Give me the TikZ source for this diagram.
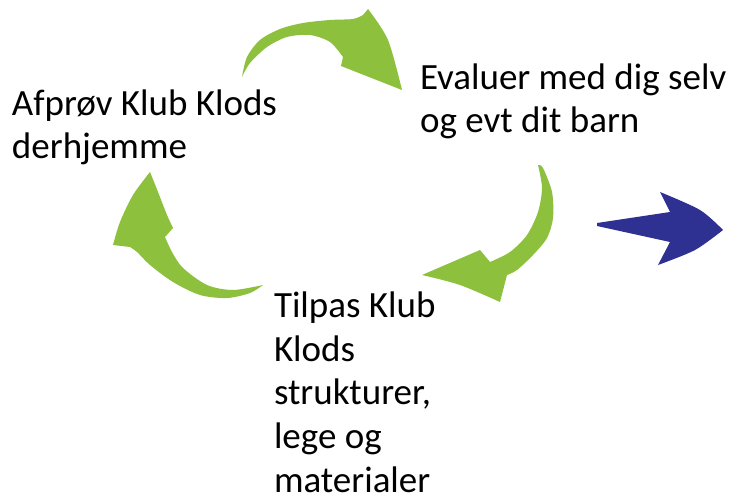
\documentclass[tikz,border=0pt]{standalone}
\usepackage{fontspec}
\setmainfont{Carlito}
\usepackage{tikz}
\usetikzlibrary{positioning}
\definecolor{arrowgreen}{RGB}{141,192,61}
\definecolor{arrowblue}{RGB}{46,48,146}

\begin{document}
\begin{tikzpicture}[x=1pt,y=-1pt,
    every node/.style={inner sep=0pt,outer sep=0pt},
    steptext/.style={anchor=base west,align=left,font=\fontsize{37}{43.6}\selectfont},
    cyclearrow/.style={fill=arrowgreen},
    nextarrow/.style={fill=arrowblue}]

    \useasboundingbox[fill=white] (0,0) rectangle (738,497);

    \node[steptext] (Afproev) at (12,159) {Afprøv Klub Klods\\derhjemme};
    \node[steptext] (Evaluer) at (420,133) {Evaluer med dig selv\\og evt dit barn};
    \node[steptext] (Tilpas) at (274,492) {Tilpas Klub\\Klods\\strukturer,\\lege og\\materialer};

    \fill[cyclearrow] (242,77)
      -- plot[smooth] coordinates {(242,77) (247,57) (260,40) (280,29) (303,23) (330,20) (353,19) (363,15)}
      -- (368,9)
      -- plot[smooth] coordinates {(368,9) (388,40) (402,90)}
      -- (341,66) -- (343,57)
      -- plot[smooth] coordinates {(343,57) (330,42) (310,35) (287,37) (267,47) (250,63) (242,77)}
      -- cycle;

    \fill[cyclearrow] (538,165)
      -- plot[smooth] coordinates {(538,165) (543,168) (552,192) (553,218) (547,238) (533,255) (517,270) (507,275)}
      -- (500,302)
      -- plot[smooth] coordinates {(500,302) (460,285) (422,275)}
      -- (480,250) -- (490,262)
      -- plot[smooth] coordinates {(490,262) (510,252) (527,235) (538,212) (542,188) (538,165)}
      -- cycle;

    \fill[cyclearrow] (150,172)
      -- plot[smooth] coordinates {(150,172) (158,192) (167,215) (173,228)}
      -- (165,237)
      -- plot[smooth] coordinates {(165,237) (172,252) (183,268) (207,285) (233,290) (263,285)}
      -- plot[smooth] coordinates {(263,285) (250,293) (227,298) (200,295) (173,282) (150,265) (137,252) (130,247)}
      -- (113,245)
      -- plot[smooth] coordinates {(113,245) (120,222) (133,195) (150,172)}
      -- cycle;

    \fill[nextarrow] (597,223) -- (670,212) -- (660,192)
      -- plot[smooth] coordinates {(660,192) (700,210) (723,230)}
      -- plot[smooth] coordinates {(723,230) (695,250) (658,265)}
      -- (670,242) -- (597,226) -- cycle;
\end{tikzpicture}
\end{document}
